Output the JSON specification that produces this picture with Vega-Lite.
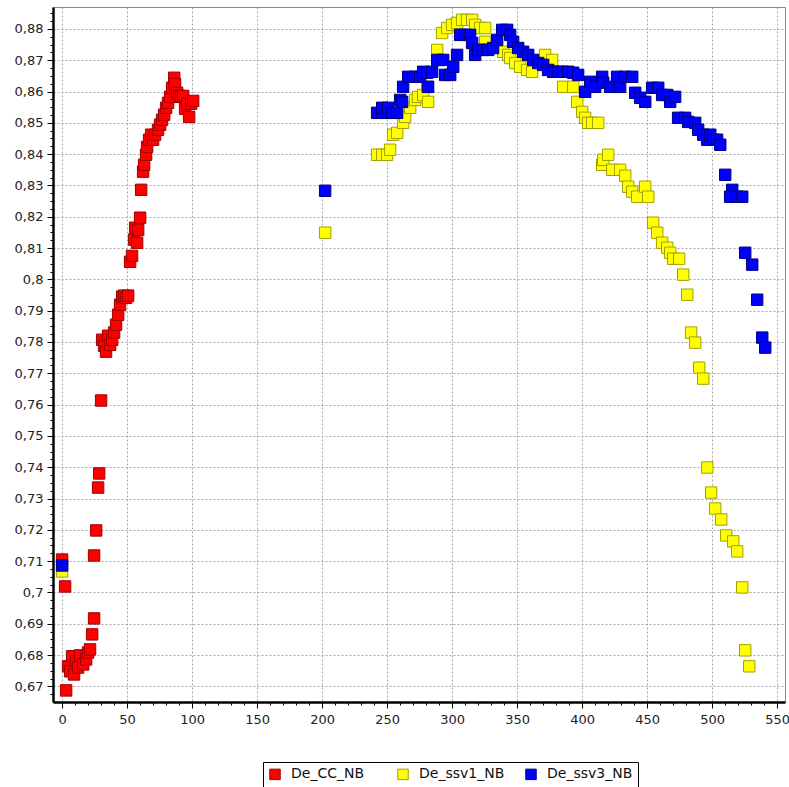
{
  "$schema": "https://vega.github.io/schema/vega-lite/v6.json",
  "width": 732,
  "height": 695,
  "autosize": "none",
  "padding": {"left": 53, "top": 7, "right": 4, "bottom": 85},
  "background": "white",
  "config": {
    "view": {"stroke": "#888888", "strokeWidth": 1},
    "axis": {"labelFont": "DejaVu Sans", "labelFontSize": 13, "labelColor": "#222222", "domainColor": "#000000", "domainWidth": 2.5, "tickColor": "#000000", "tickWidth": 1, "gridColor": "#a8a8a8", "gridDash": [2, 2], "gridWidth": 1, "title": null, "labelOverlap": false, "labelFlush": false}
  },
  "data": {"values": [
    {"s":"De_CC_NB","x":0,"y":0.7105},{"s":"De_CC_NB","x":2.3,"y":0.7019},{"s":"De_CC_NB","x":3.1,"y":0.6687},{"s":"De_CC_NB","x":4.6,"y":0.6764},{"s":"De_CC_NB","x":6.2,"y":0.6748},{"s":"De_CC_NB","x":7.7,"y":0.6796},{"s":"De_CC_NB","x":9.2,"y":0.6738},{"s":"De_CC_NB","x":10.8,"y":0.678},{"s":"De_CC_NB","x":12.3,"y":0.676},{"s":"De_CC_NB","x":13.8,"y":0.6799},{"s":"De_CC_NB","x":16.2,"y":0.677},{"s":"De_CC_NB","x":18.5,"y":0.6786},{"s":"De_CC_NB","x":20,"y":0.6808},{"s":"De_CC_NB","x":21.5,"y":0.6818},{"s":"De_CC_NB","x":23.1,"y":0.6866},{"s":"De_CC_NB","x":24.6,"y":0.6917},{"s":"De_CC_NB","x":24.6,"y":0.7118},{"s":"De_CC_NB","x":26.2,"y":0.7198},{"s":"De_CC_NB","x":27.7,"y":0.7335},{"s":"De_CC_NB","x":28.5,"y":0.738},{"s":"De_CC_NB","x":30,"y":0.7613},{"s":"De_CC_NB","x":30.8,"y":0.7807},{"s":"De_CC_NB","x":32.3,"y":0.7788},{"s":"De_CC_NB","x":33.8,"y":0.7769},{"s":"De_CC_NB","x":35.4,"y":0.782},{"s":"De_CC_NB","x":36.9,"y":0.7791},{"s":"De_CC_NB","x":38.5,"y":0.7807},{"s":"De_CC_NB","x":40,"y":0.783},{"s":"De_CC_NB","x":41.5,"y":0.7855},{"s":"De_CC_NB","x":43.1,"y":0.7887},{"s":"De_CC_NB","x":44.6,"y":0.7919},{"s":"De_CC_NB","x":46.2,"y":0.7945},{"s":"De_CC_NB","x":47.7,"y":0.7948},{"s":"De_CC_NB","x":49.2,"y":0.7941},{"s":"De_CC_NB","x":50.8,"y":0.7948},{"s":"De_CC_NB","x":52.3,"y":0.8056},{"s":"De_CC_NB","x":53.8,"y":0.8075},{"s":"De_CC_NB","x":55.4,"y":0.8127},{"s":"De_CC_NB","x":56.2,"y":0.8165},{"s":"De_CC_NB","x":57.7,"y":0.8117},{"s":"De_CC_NB","x":58.5,"y":0.8158},{"s":"De_CC_NB","x":60,"y":0.8197},{"s":"De_CC_NB","x":60.8,"y":0.8286},{"s":"De_CC_NB","x":62.3,"y":0.8344},{"s":"De_CC_NB","x":63.1,"y":0.8366},{"s":"De_CC_NB","x":64.6,"y":0.8398},{"s":"De_CC_NB","x":65.4,"y":0.8423},{"s":"De_CC_NB","x":66.9,"y":0.8446},{"s":"De_CC_NB","x":68.5,"y":0.8462},{"s":"De_CC_NB","x":70,"y":0.8446},{"s":"De_CC_NB","x":71.5,"y":0.8462},{"s":"De_CC_NB","x":73.8,"y":0.8478},{"s":"De_CC_NB","x":75.4,"y":0.8494},{"s":"De_CC_NB","x":76.9,"y":0.851},{"s":"De_CC_NB","x":78.5,"y":0.8526},{"s":"De_CC_NB","x":80,"y":0.8548},{"s":"De_CC_NB","x":81.5,"y":0.8564},{"s":"De_CC_NB","x":83.1,"y":0.8583},{"s":"De_CC_NB","x":84.6,"y":0.8612},{"s":"De_CC_NB","x":86.2,"y":0.8644},{"s":"De_CC_NB","x":86.9,"y":0.8624},{"s":"De_CC_NB","x":88.5,"y":0.8596},{"s":"De_CC_NB","x":90,"y":0.8586},{"s":"De_CC_NB","x":91.5,"y":0.8583},{"s":"De_CC_NB","x":93.1,"y":0.8586},{"s":"De_CC_NB","x":94.6,"y":0.8545},{"s":"De_CC_NB","x":96.2,"y":0.8561},{"s":"De_CC_NB","x":97.7,"y":0.8519},{"s":"De_CC_NB","x":99.2,"y":0.8561},{"s":"De_CC_NB","x":100.8,"y":0.857},
    {"s":"De_ssv1_NB","x":0,"y":0.7067},{"s":"De_ssv1_NB","x":202.3,"y":0.8149},{"s":"De_ssv1_NB","x":242.3,"y":0.8398},{"s":"De_ssv1_NB","x":246.2,"y":0.8398},{"s":"De_ssv1_NB","x":250,"y":0.8398},{"s":"De_ssv1_NB","x":252.3,"y":0.8414},{"s":"De_ssv1_NB","x":254.6,"y":0.8462},{"s":"De_ssv1_NB","x":257.7,"y":0.8468},{"s":"De_ssv1_NB","x":262.3,"y":0.85},{"s":"De_ssv1_NB","x":263.8,"y":0.8519},{"s":"De_ssv1_NB","x":267.7,"y":0.8548},{"s":"De_ssv1_NB","x":271.5,"y":0.8573},{"s":"De_ssv1_NB","x":273.8,"y":0.8583},{"s":"De_ssv1_NB","x":277.7,"y":0.8589},{"s":"De_ssv1_NB","x":280.8,"y":0.8615},{"s":"De_ssv1_NB","x":281.5,"y":0.8567},{"s":"De_ssv1_NB","x":288.5,"y":0.8733},{"s":"De_ssv1_NB","x":292.3,"y":0.8787},{"s":"De_ssv1_NB","x":296.2,"y":0.8803},{"s":"De_ssv1_NB","x":300,"y":0.8813},{"s":"De_ssv1_NB","x":303.8,"y":0.8819},{"s":"De_ssv1_NB","x":307.7,"y":0.8829},{"s":"De_ssv1_NB","x":311.5,"y":0.8829},{"s":"De_ssv1_NB","x":315.4,"y":0.8829},{"s":"De_ssv1_NB","x":317.7,"y":0.8813},{"s":"De_ssv1_NB","x":321.5,"y":0.8803},{"s":"De_ssv1_NB","x":325.4,"y":0.8803},{"s":"De_ssv1_NB","x":325.4,"y":0.8759},{"s":"De_ssv1_NB","x":339.2,"y":0.8727},{"s":"De_ssv1_NB","x":343.1,"y":0.8717},{"s":"De_ssv1_NB","x":344.6,"y":0.8707},{"s":"De_ssv1_NB","x":348.5,"y":0.8691},{"s":"De_ssv1_NB","x":352.3,"y":0.8679},{"s":"De_ssv1_NB","x":357.7,"y":0.8669},{"s":"De_ssv1_NB","x":361.5,"y":0.8663},{"s":"De_ssv1_NB","x":371.5,"y":0.8717},{"s":"De_ssv1_NB","x":376.9,"y":0.8701},{"s":"De_ssv1_NB","x":385.4,"y":0.8615},{"s":"De_ssv1_NB","x":393.1,"y":0.8615},{"s":"De_ssv1_NB","x":396.2,"y":0.8567},{"s":"De_ssv1_NB","x":400,"y":0.8535},{"s":"De_ssv1_NB","x":402.3,"y":0.8516},{"s":"De_ssv1_NB","x":404.6,"y":0.85},{"s":"De_ssv1_NB","x":407.7,"y":0.85},{"s":"De_ssv1_NB","x":412.3,"y":0.85},{"s":"De_ssv1_NB","x":415.4,"y":0.8366},{"s":"De_ssv1_NB","x":416.2,"y":0.8382},{"s":"De_ssv1_NB","x":420,"y":0.8398},{"s":"De_ssv1_NB","x":423.1,"y":0.835},{"s":"De_ssv1_NB","x":429.2,"y":0.835},{"s":"De_ssv1_NB","x":433.1,"y":0.8331},{"s":"De_ssv1_NB","x":435.4,"y":0.8296},{"s":"De_ssv1_NB","x":438.5,"y":0.828},{"s":"De_ssv1_NB","x":442.3,"y":0.8264},{"s":"De_ssv1_NB","x":448.5,"y":0.8296},{"s":"De_ssv1_NB","x":450.8,"y":0.8264},{"s":"De_ssv1_NB","x":454.6,"y":0.8181},{"s":"De_ssv1_NB","x":457.7,"y":0.8149},{"s":"De_ssv1_NB","x":461.5,"y":0.8117},{"s":"De_ssv1_NB","x":465.4,"y":0.8101},{"s":"De_ssv1_NB","x":467.7,"y":0.8085},{"s":"De_ssv1_NB","x":470,"y":0.8066},{"s":"De_ssv1_NB","x":474.6,"y":0.8066},{"s":"De_ssv1_NB","x":477.7,"y":0.8015},{"s":"De_ssv1_NB","x":480.8,"y":0.7951},{"s":"De_ssv1_NB","x":483.8,"y":0.783},{"s":"De_ssv1_NB","x":486.9,"y":0.7798},{"s":"De_ssv1_NB","x":490,"y":0.7718},{"s":"De_ssv1_NB","x":493.1,"y":0.7683},{"s":"De_ssv1_NB","x":496.2,"y":0.7399},{"s":"De_ssv1_NB","x":499.2,"y":0.7319},{"s":"De_ssv1_NB","x":502.3,"y":0.7268},{"s":"De_ssv1_NB","x":506.9,"y":0.7233},{"s":"De_ssv1_NB","x":510.8,"y":0.7182},{"s":"De_ssv1_NB","x":516.2,"y":0.7163},{"s":"De_ssv1_NB","x":519.2,"y":0.7131},{"s":"De_ssv1_NB","x":523.1,"y":0.7016},{"s":"De_ssv1_NB","x":525.4,"y":0.6815},{"s":"De_ssv1_NB","x":528.5,"y":0.6764},
    {"s":"De_ssv3_NB","x":0,"y":0.7086},{"s":"De_ssv3_NB","x":202.3,"y":0.8283},{"s":"De_ssv3_NB","x":242.3,"y":0.8532},{"s":"De_ssv3_NB","x":246.2,"y":0.8532},{"s":"De_ssv3_NB","x":246.2,"y":0.8548},{"s":"De_ssv3_NB","x":250,"y":0.8532},{"s":"De_ssv3_NB","x":250.8,"y":0.8548},{"s":"De_ssv3_NB","x":253.8,"y":0.8532},{"s":"De_ssv3_NB","x":257.7,"y":0.8532},{"s":"De_ssv3_NB","x":260,"y":0.8573},{"s":"De_ssv3_NB","x":261.5,"y":0.8567},{"s":"De_ssv3_NB","x":262.3,"y":0.8615},{"s":"De_ssv3_NB","x":266.2,"y":0.8647},{"s":"De_ssv3_NB","x":271.5,"y":0.8647},{"s":"De_ssv3_NB","x":275.4,"y":0.8647},{"s":"De_ssv3_NB","x":277.7,"y":0.8663},{"s":"De_ssv3_NB","x":280.8,"y":0.866},{"s":"De_ssv3_NB","x":281.5,"y":0.8615},{"s":"De_ssv3_NB","x":284.6,"y":0.8663},{"s":"De_ssv3_NB","x":288.5,"y":0.8701},{"s":"De_ssv3_NB","x":293.1,"y":0.8701},{"s":"De_ssv3_NB","x":294.6,"y":0.8653},{"s":"De_ssv3_NB","x":298.5,"y":0.8653},{"s":"De_ssv3_NB","x":300.8,"y":0.8679},{"s":"De_ssv3_NB","x":303.8,"y":0.8717},{"s":"De_ssv3_NB","x":306.2,"y":0.8781},{"s":"De_ssv3_NB","x":310,"y":0.8781},{"s":"De_ssv3_NB","x":313.8,"y":0.8781},{"s":"De_ssv3_NB","x":315.4,"y":0.8755},{"s":"De_ssv3_NB","x":317.7,"y":0.8717},{"s":"De_ssv3_NB","x":320,"y":0.8733},{"s":"De_ssv3_NB","x":323.8,"y":0.8733},{"s":"De_ssv3_NB","x":327.7,"y":0.8733},{"s":"De_ssv3_NB","x":331.5,"y":0.8739},{"s":"De_ssv3_NB","x":334.6,"y":0.8765},{"s":"De_ssv3_NB","x":338.5,"y":0.8797},{"s":"De_ssv3_NB","x":342.3,"y":0.8797},{"s":"De_ssv3_NB","x":344.6,"y":0.8781},{"s":"De_ssv3_NB","x":346.9,"y":0.8759},{"s":"De_ssv3_NB","x":350.8,"y":0.8739},{"s":"De_ssv3_NB","x":354.6,"y":0.8727},{"s":"De_ssv3_NB","x":358.5,"y":0.8717},{"s":"De_ssv3_NB","x":362.3,"y":0.8701},{"s":"De_ssv3_NB","x":366.2,"y":0.8691},{"s":"De_ssv3_NB","x":370,"y":0.8685},{"s":"De_ssv3_NB","x":373.8,"y":0.8669},{"s":"De_ssv3_NB","x":377.7,"y":0.8663},{"s":"De_ssv3_NB","x":381.5,"y":0.8663},{"s":"De_ssv3_NB","x":385.4,"y":0.8663},{"s":"De_ssv3_NB","x":389.2,"y":0.8663},{"s":"De_ssv3_NB","x":393.1,"y":0.866},{"s":"De_ssv3_NB","x":396.9,"y":0.8653},{"s":"De_ssv3_NB","x":402.3,"y":0.8599},{"s":"De_ssv3_NB","x":406.2,"y":0.8631},{"s":"De_ssv3_NB","x":410,"y":0.8615},{"s":"De_ssv3_NB","x":415.4,"y":0.8647},{"s":"De_ssv3_NB","x":416.2,"y":0.8628},{"s":"De_ssv3_NB","x":421.5,"y":0.8615},{"s":"De_ssv3_NB","x":426.9,"y":0.8647},{"s":"De_ssv3_NB","x":429.2,"y":0.8615},{"s":"De_ssv3_NB","x":433.1,"y":0.8647},{"s":"De_ssv3_NB","x":438.5,"y":0.8647},{"s":"De_ssv3_NB","x":440.8,"y":0.8596},{"s":"De_ssv3_NB","x":444.6,"y":0.858},{"s":"De_ssv3_NB","x":448.5,"y":0.8567},{"s":"De_ssv3_NB","x":453.8,"y":0.8612},{"s":"De_ssv3_NB","x":458.5,"y":0.8612},{"s":"De_ssv3_NB","x":461.5,"y":0.8589},{"s":"De_ssv3_NB","x":465.4,"y":0.8589},{"s":"De_ssv3_NB","x":467.7,"y":0.8567},{"s":"De_ssv3_NB","x":471.5,"y":0.8583},{"s":"De_ssv3_NB","x":473.8,"y":0.8516},{"s":"De_ssv3_NB","x":479.2,"y":0.8516},{"s":"De_ssv3_NB","x":481.5,"y":0.8503},{"s":"De_ssv3_NB","x":486.9,"y":0.85},{"s":"De_ssv3_NB","x":489.2,"y":0.8478},{"s":"De_ssv3_NB","x":493.1,"y":0.8462},{"s":"De_ssv3_NB","x":496.2,"y":0.8446},{"s":"De_ssv3_NB","x":498.5,"y":0.8462},{"s":"De_ssv3_NB","x":500.8,"y":0.8446},{"s":"De_ssv3_NB","x":503.8,"y":0.8446},{"s":"De_ssv3_NB","x":506.2,"y":0.843},{"s":"De_ssv3_NB","x":510,"y":0.8334},{"s":"De_ssv3_NB","x":515.4,"y":0.8286},{"s":"De_ssv3_NB","x":513.8,"y":0.8264},{"s":"De_ssv3_NB","x":519.2,"y":0.8264},{"s":"De_ssv3_NB","x":523.1,"y":0.8264},{"s":"De_ssv3_NB","x":525.4,"y":0.8085},{"s":"De_ssv3_NB","x":530.8,"y":0.8047},{"s":"De_ssv3_NB","x":534.6,"y":0.7935},{"s":"De_ssv3_NB","x":538.5,"y":0.7814},{"s":"De_ssv3_NB","x":540.8,"y":0.7782}
  ]},
  "mark": {"type": "point", "shape": "square", "filled": true, "size": 130, "opacity": 1, "strokeWidth": 1, "strokeOpacity": 1},
  "encoding": {
    "x": {"field": "x", "type": "quantitative",
      "scale": {"domain": [-7, 556], "nice": false, "zero": false},
      "axis": {
        "values": [0,10,20,30,40,50,60,70,80,90,100,110,120,130,140,150,160,170,180,190,200,210,220,230,240,250,260,270,280,290,300,310,320,330,340,350,360,370,380,390,400,410,420,430,440,450,460,470,480,490,500,510,520,530,540,550],
        "labelExpr": "datum.value % 50 === 0 ? datum.label : ''",
        "tickSize": {"condition": {"test": "datum.value % 50 === 0", "value": 6}, "value": 3},
        "gridOpacity": {"condition": {"test": "datum.value % 50 === 0", "value": 1}, "value": 0},
        "labelPadding": 5
      }
    },
    "y": {"field": "y", "type": "quantitative",
      "scale": {"domain": [0.665, 0.887], "nice": false, "zero": false},
      "axis": {
        "values": [0.6675,0.67,0.6725,0.675,0.6775,0.68,0.6825,0.685,0.6875,0.69,0.6925,0.695,0.6975,0.7,0.7025,0.705,0.7075,0.71,0.7125,0.715,0.7175,0.72,0.7225,0.725,0.7275,0.73,0.7325,0.735,0.7375,0.74,0.7425,0.745,0.7475,0.75,0.7525,0.755,0.7575,0.76,0.7625,0.765,0.7675,0.77,0.7725,0.775,0.7775,0.78,0.7825,0.785,0.7875,0.79,0.7925,0.795,0.7975,0.8,0.8025,0.805,0.8075,0.81,0.8125,0.815,0.8175,0.82,0.8225,0.825,0.8275,0.83,0.8325,0.835,0.8375,0.84,0.8425,0.845,0.8475,0.85,0.8525,0.855,0.8575,0.86,0.8625,0.865,0.8675,0.87,0.8725,0.875,0.8775,0.88,0.8825,0.885],
        "labelExpr": "abs(datum.value*100 - round(datum.value*100)) < 0.01 ? replace(format(datum.value, '.2~f'), '.', ',') : ''",
        "tickSize": {"condition": {"test": "abs(datum.value*100 - round(datum.value*100)) < 0.01", "value": 6}, "value": 3},
        "gridOpacity": {"condition": {"test": "abs(datum.value*100 - round(datum.value*100)) < 0.01", "value": 1}, "value": 0},
        "labelPadding": 4
      }
    },
    "fill": {"field": "s", "type": "nominal",
      "scale": {"domain": ["De_CC_NB", "De_ssv1_NB", "De_ssv3_NB"], "range": ["#ff0000", "#ffff00", "#0000ff"]},
      "legend": {"title": null, "orient": "none", "legendX": 210, "legendY": 755, "direction": "horizontal", "gridAlign": "all", "columnPadding": 18, "padding": 5, "strokeColor": "#000000", "fillColor": "#ffffff", "symbolType": "square", "symbolSize": 110, "symbolStrokeColor": "#444444", "symbolStrokeWidth": 1, "labelFont": "DejaVu Sans", "labelFontSize": 14, "labelColor": "#111111", "labelOffset": 9}
    },
    "stroke": {"field": "s", "type": "nominal",
      "scale": {"domain": ["De_CC_NB", "De_ssv1_NB", "De_ssv3_NB"], "range": ["#a00000", "#a0a000", "#000080"]},
      "legend": null
    }
  }
}
